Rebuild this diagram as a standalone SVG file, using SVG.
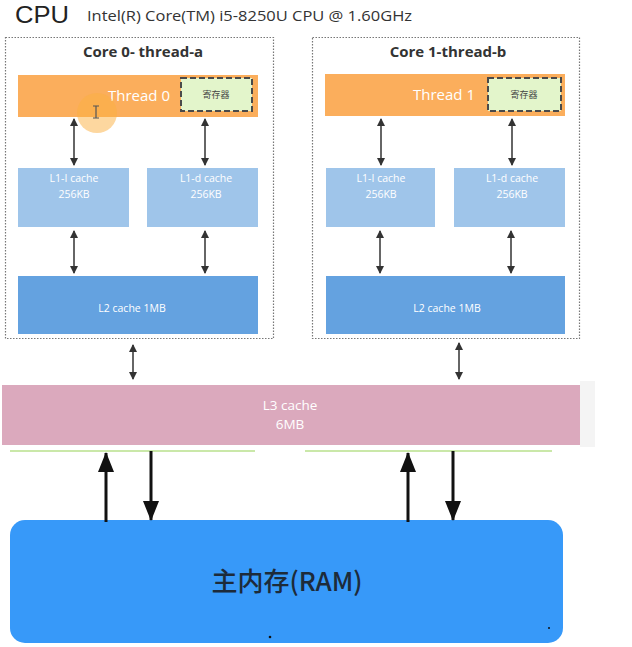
<svg xmlns="http://www.w3.org/2000/svg" width="632" height="647" viewBox="0 0 632 647">
  <style>
    .core { fill: none; stroke: #777; stroke-width: 1.2; stroke-dasharray: 1.5 1.5; }
    .title { font-family: "Open Sans", "Liberation Sans", sans-serif; font-weight: bold; font-size: 15px; fill: #333; text-anchor: middle; }
    .thread { fill: #FBAE5C; }
    .threadtxt { font-family: "Open Sans", "Liberation Sans", sans-serif; font-size: 15px; fill: #fff; text-anchor: middle; }
    .reg { fill: #E3F5CB; stroke: #4a4a4a; stroke-width: 2; stroke-dasharray: 6 3; }
    .regtxt { font-family: "Noto Sans CJK SC", sans-serif; font-size: 9px; fill: #444; text-anchor: middle; }
    .l1 { fill: #9FC5EA; }
    .l2 { fill: #64A2E0; }
    .small { font-family: "Open Sans", "Liberation Sans", sans-serif; font-size: 10.5px; fill: #fff; text-anchor: middle; }
    .l3 { fill: #DBA9BD; }
    .l3txt { font-family: "Open Sans", "Liberation Sans", sans-serif; font-size: 13.5px; fill: #fff; text-anchor: middle; }
    .ram { fill: #3799F9; }
    .ramtxt { font-family: "Noto Sans CJK SC", "Liberation Sans", sans-serif; font-size: 26px; font-weight: 500; fill: #1d2b3a; text-anchor: middle; }
    .bi { stroke: #333; stroke-width: 1.5; fill: none; marker-start: url(#hs); marker-end: url(#he); }
    .big { stroke: #111; stroke-width: 3; fill: none; marker-end: url(#hb); }
  </style>
  <defs>
    <marker id="he" markerUnits="userSpaceOnUse" markerWidth="8" markerHeight="10" refX="7" refY="4" orient="auto">
      <path d="M0,0 L8,4 L0,8 Z" fill="#333"/>
    </marker>
    <marker id="hs" markerUnits="userSpaceOnUse" markerWidth="8" markerHeight="10" refX="1" refY="4" orient="auto">
      <path d="M8,0 L0,4 L8,8 Z" fill="#333"/>
    </marker>
    <marker id="hb" markerUnits="userSpaceOnUse" markerWidth="20" markerHeight="18" refX="19" refY="8" orient="auto">
      <path d="M0,0 L20,8 L0,16 Z" fill="#111"/>
    </marker>
  </defs>

  <rect width="632" height="647" fill="#fff"/>

  <!-- header -->
  <g id="header">
    <text x="15" y="23" font-family="'Liberation Sans', sans-serif" font-size="23" fill="#222" textLength="54" lengthAdjust="spacingAndGlyphs">CPU</text>
    <text x="87" y="21" font-family="'Open Sans', 'Liberation Sans', sans-serif" font-size="14.5" fill="#333" textLength="325" lengthAdjust="spacingAndGlyphs">Intel(R) Core(TM) i5-8250U CPU @ 1.60GHz</text>
  </g>

  <!-- core 0 -->
  <g id="core0">
    <rect class="core" x="5.5" y="37.5" width="268" height="301"/>
    <text class="title" x="143" y="57">Core 0- thread-a</text>
  </g>
  <g id="thread0">
    <rect class="thread" x="18" y="75" width="240" height="42"/>
    <text class="threadtxt" x="139" y="101">Thread 0</text>
  </g>
  <g id="reg0">
    <rect class="reg" x="181" y="78" width="71" height="33"/>
    <text class="regtxt" x="216" y="98">寄存器</text>
  </g>
  <g id="cursor">
    <circle cx="97" cy="113" r="20" fill="#FBB040" opacity="0.5"/>
    <path d="M93,106 H99 M96,106 V118 M93,118 H99" stroke="#555" stroke-width="1.2" fill="none"/>
  </g>
  <g id="l1i0">
    <rect class="l1" x="18" y="168" width="111" height="59"/>
    <text class="small" x="74" y="182">L1-I cache</text>
    <text class="small" x="74" y="198">256KB</text>
  </g>
  <g id="l1d0">
    <rect class="l1" x="147" y="168" width="111" height="59"/>
    <text class="small" x="206" y="182">L1-d cache</text>
    <text class="small" x="206" y="198">256KB</text>
  </g>
  <g id="l20">
    <rect class="l2" x="18" y="276" width="240" height="58"/>
    <text class="small" x="132" y="312">L2 cache 1MB</text>
  </g>

  <!-- core 1 -->
  <g id="core1">
    <rect class="core" x="312.5" y="37.5" width="267" height="301"/>
    <text class="title" x="448" y="57">Core 1-thread-b</text>
  </g>
  <g id="thread1">
    <rect class="thread" x="325" y="74" width="240" height="42"/>
    <text class="threadtxt" x="444" y="100">Thread 1</text>
  </g>
  <g id="reg1">
    <rect class="reg" x="488" y="78" width="73" height="33"/>
    <text class="regtxt" x="524" y="98">寄存器</text>
  </g>
  <g id="l1i1">
    <rect class="l1" x="326" y="168" width="109" height="59"/>
    <text class="small" x="381" y="182">L1-I cache</text>
    <text class="small" x="381" y="198">256KB</text>
  </g>
  <g id="l1d1">
    <rect class="l1" x="454" y="168" width="111" height="59"/>
    <text class="small" x="512" y="182">L1-d cache</text>
    <text class="small" x="512" y="198">256KB</text>
  </g>
  <g id="l21">
    <rect class="l2" x="326" y="276" width="239" height="58"/>
    <text class="small" x="447" y="312">L2 cache 1MB</text>
  </g>

  <!-- shared L3 -->
  <g id="l3">
    <rect x="580" y="381" width="15" height="66" fill="#f4f4f4"/>
    <rect class="l3" x="2" y="385" width="578" height="60"/>
    <text class="l3txt" x="290" y="410">L3 cache</text>
    <text class="l3txt" x="290" y="429">6MB</text>
  </g>
  <g id="rails" stroke="#B8E08C" stroke-width="1.5">
    <line x1="10" y1="451" x2="255" y2="451"/>
    <line x1="305" y1="451" x2="552" y2="451"/>
  </g>

  <!-- main memory -->
  <g id="ram">
    <rect class="ram" x="10" y="520" width="553" height="123" rx="15"/>
    <text class="ramtxt" x="287" y="591">主内存(RAM)</text>
    <circle cx="270" cy="637" r="1.3" fill="#111"/>
    <circle cx="549" cy="628" r="1" fill="#111"/>
  </g>

  <!-- connectors -->
  <g id="connectors">
    <line class="bi" x1="74" y1="119" x2="74" y2="165"/>
    <line class="bi" x1="205" y1="119" x2="205" y2="165"/>
    <line class="bi" x1="381" y1="119" x2="381" y2="165"/>
    <line class="bi" x1="512" y1="119" x2="512" y2="165"/>
    <line class="bi" x1="74" y1="231" x2="74" y2="273"/>
    <line class="bi" x1="205" y1="231" x2="205" y2="273"/>
    <line class="bi" x1="380" y1="231" x2="380" y2="273"/>
    <line class="bi" x1="511" y1="231" x2="511" y2="273"/>
    <line class="bi" x1="133" y1="345" x2="133" y2="379"/>
    <line class="bi" x1="459" y1="343" x2="459" y2="379"/>
    <line class="big" x1="106" y1="522" x2="106" y2="453"/>
    <line class="big" x1="151" y1="451" x2="151" y2="520"/>
    <line class="big" x1="408" y1="522" x2="408" y2="453"/>
    <line class="big" x1="453" y1="451" x2="453" y2="520"/>
  </g>
</svg>
